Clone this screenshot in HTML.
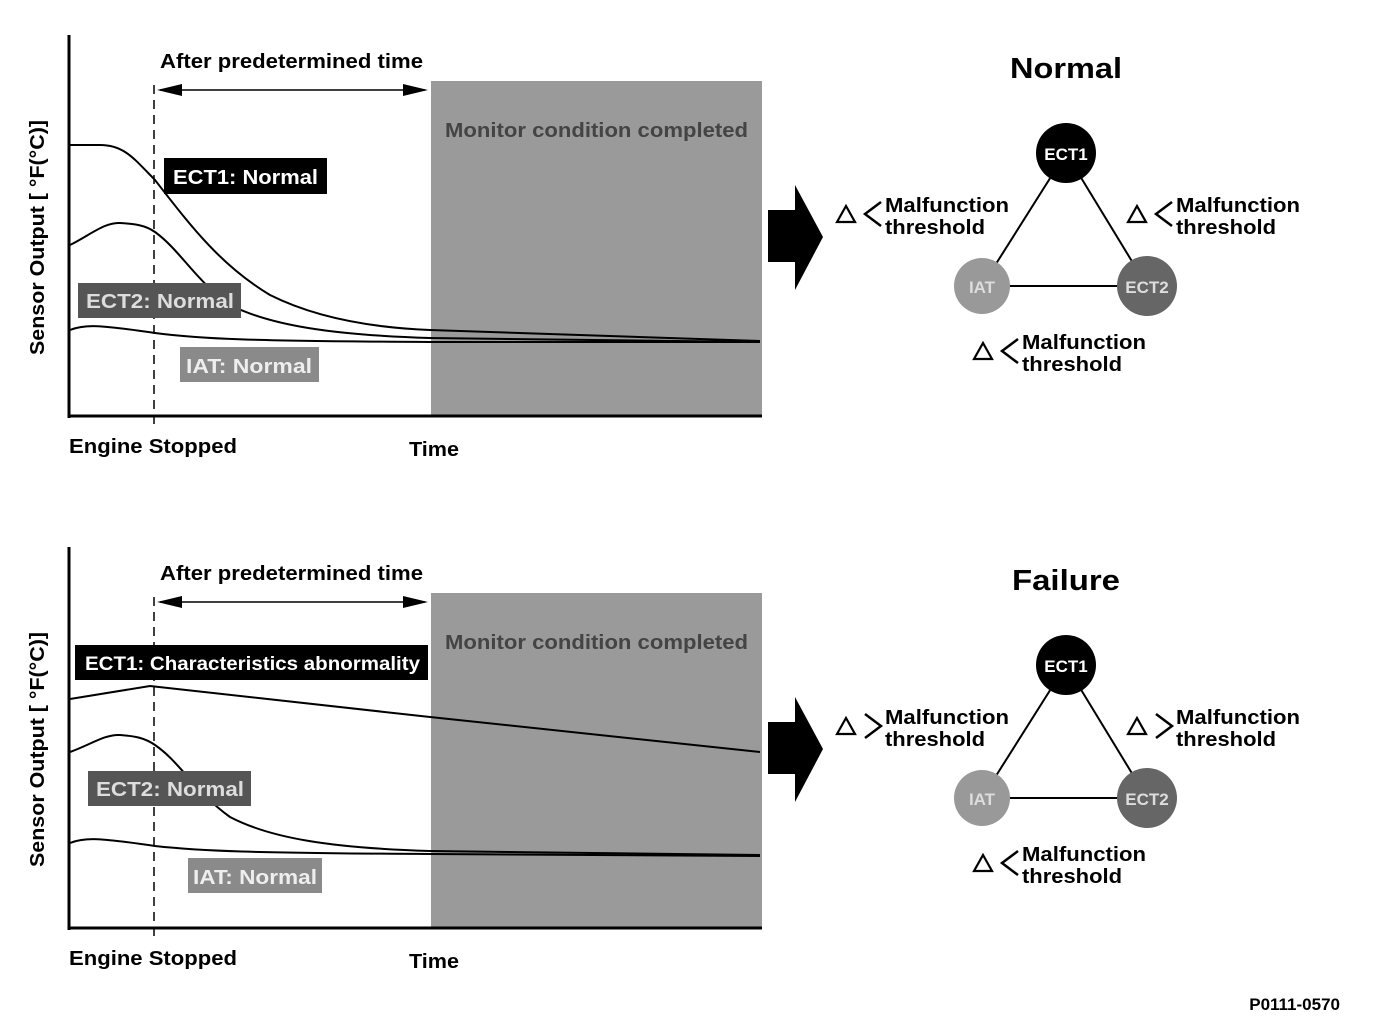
<!DOCTYPE html>
<html><head><meta charset="utf-8"><style>body{margin:0;background:#fff}svg{display:block}text{font-family:"Liberation Sans",Arial,sans-serif;font-weight:bold}</style></head><body>
<svg width="1376" height="1026" viewBox="0 0 1376 1026" xmlns="http://www.w3.org/2000/svg">
<defs>
<g id="arr"><polygon points="768,210 795,210 795,185 823,237 795,290 795,262 768,262" fill="#000"/></g>
<g id="lt"><polygon points="0,16 9,0 18,16" fill="none" stroke="#000" stroke-width="2.2"/><polyline points="44,-4 28,8 44,20" fill="none" stroke="#000" stroke-width="2.5"/></g>
<g id="gt"><polygon points="0,16 9,0 18,16" fill="none" stroke="#000" stroke-width="2.2"/><polyline points="28,-4 44,8 28,20" fill="none" stroke="#000" stroke-width="2.5"/></g>
</defs>
<!-- TOP CHART -->
<g>
<rect x="431" y="81" width="331" height="335" fill="#9a9a9a"/>
<text x="445" y="137" font-size="20" fill="#444" textLength="303" lengthAdjust="spacingAndGlyphs">Monitor condition completed</text>
<line x1="69" y1="35" x2="69" y2="418" stroke="#000" stroke-width="3"/>
<line x1="68" y1="416" x2="762" y2="416" stroke="#000" stroke-width="3"/>
<line x1="154" y1="85" x2="154" y2="430" stroke="#000" stroke-width="1.5" stroke-dasharray="9,6"/>
<line x1="160" y1="90" x2="425" y2="90" stroke="#000" stroke-width="1.5"/>
<polygon points="157,90 182,84 182,96" fill="#000"/><polygon points="428,90 403,84 403,96" fill="#000"/>
<text x="160" y="68" font-size="20" textLength="263" lengthAdjust="spacingAndGlyphs">After predetermined time</text>
<path d="M70,145 L100,145 C125,145 135,160 155,180 C190,225 220,265 270,295 C320,320 380,328 430,330 L760,341" fill="none" stroke="#000" stroke-width="2"/>
<path d="M70,245 C90,235 105,222 120,223 C135,224 145,225 155,232 C180,250 195,280 230,305 C270,325 330,335 430,338 L760,342" fill="none" stroke="#000" stroke-width="2"/>
<path d="M70,330 C85,324 100,325 155,333 C200,339 250,341 430,342 L760,342" fill="none" stroke="#000" stroke-width="2"/>
<rect x="164" y="158" width="163" height="36" fill="#000"/>
<text x="173" y="184" font-size="20" fill="#fff" font-weight="normal" textLength="145" lengthAdjust="spacingAndGlyphs">ECT1: Normal</text>
<rect x="78" y="283" width="163" height="35" fill="#555"/>
<text x="86" y="308" font-size="20" fill="#ddd" textLength="148" lengthAdjust="spacingAndGlyphs">ECT2: Normal</text>
<rect x="180" y="347" width="139" height="35" fill="#8a8a8a"/>
<text x="186" y="373" font-size="20" fill="#eee" textLength="126" lengthAdjust="spacingAndGlyphs">IAT: Normal</text>
<text x="69" y="453" font-size="20" textLength="168" lengthAdjust="spacingAndGlyphs">Engine Stopped</text>
<text x="409" y="456" font-size="20" textLength="50" lengthAdjust="spacingAndGlyphs">Time</text>
<text transform="translate(44,355) rotate(-90)" font-size="20" textLength="235" lengthAdjust="spacingAndGlyphs">Sensor Output [ °F(°C)]</text>
<use href="#arr"/>
</g>
<!-- BOTTOM CHART -->
<g>
<rect x="431" y="593" width="331" height="335" fill="#9a9a9a"/>
<text x="445" y="649" font-size="20" fill="#444" textLength="303" lengthAdjust="spacingAndGlyphs">Monitor condition completed</text>
<line x1="69" y1="547" x2="69" y2="930" stroke="#000" stroke-width="3"/>
<line x1="68" y1="928" x2="762" y2="928" stroke="#000" stroke-width="3"/>
<line x1="154" y1="597" x2="154" y2="942" stroke="#000" stroke-width="1.5" stroke-dasharray="9,6"/>
<line x1="160" y1="602" x2="425" y2="602" stroke="#000" stroke-width="1.5"/>
<polygon points="157,602 182,596 182,608" fill="#000"/><polygon points="428,602 403,596 403,608" fill="#000"/>
<text x="160" y="580" font-size="20" textLength="263" lengthAdjust="spacingAndGlyphs">After predetermined time</text>
<path d="M70,699 L150,686 L430,717 L760,752" fill="none" stroke="#000" stroke-width="2"/>
<path d="M70,752 C90,745 105,734 120,735 C135,736 145,738 155,745 C180,762 195,792 230,817 C270,838 330,848 430,851 L760,855" fill="none" stroke="#000" stroke-width="2"/>
<path d="M70,843 C85,837 100,838 155,846 C200,851 250,853 430,854 L760,856" fill="none" stroke="#000" stroke-width="2"/>
<rect x="75" y="645" width="353" height="35" fill="#000"/>
<text x="85" y="670" font-size="19" fill="#fff" font-weight="normal" textLength="335" lengthAdjust="spacingAndGlyphs">ECT1: Characteristics abnormality</text>
<rect x="88" y="771" width="163" height="35" fill="#555"/>
<text x="96" y="796" font-size="20" fill="#ddd" textLength="148" lengthAdjust="spacingAndGlyphs">ECT2: Normal</text>
<rect x="188" y="858" width="134" height="35" fill="#8a8a8a"/>
<text x="193" y="884" font-size="20" fill="#eee" textLength="124" lengthAdjust="spacingAndGlyphs">IAT: Normal</text>
<text x="69" y="965" font-size="20" textLength="168" lengthAdjust="spacingAndGlyphs">Engine Stopped</text>
<text x="409" y="968" font-size="20" textLength="50" lengthAdjust="spacingAndGlyphs">Time</text>
<text transform="translate(44,867) rotate(-90)" font-size="20" textLength="235" lengthAdjust="spacingAndGlyphs">Sensor Output [ °F(°C)]</text>
<use href="#arr" transform="translate(0,512)"/>
</g>
<!-- TRIANGLES -->
<g>
<text x="1066" y="78" font-size="29" text-anchor="middle" textLength="112" lengthAdjust="spacingAndGlyphs">Normal</text>
<line x1="1066" y1="153" x2="982" y2="286" stroke="#000" stroke-width="2"/>
<line x1="1066" y1="153" x2="1147" y2="286" stroke="#000" stroke-width="2"/>
<line x1="982" y1="286" x2="1147" y2="286" stroke="#000" stroke-width="2"/>
<circle cx="1066" cy="153" r="30" fill="#000"/><text x="1066" y="160" font-size="17" fill="#fff" text-anchor="middle" font-weight="normal">ECT1</text>
<circle cx="982" cy="286" r="28" fill="#999"/><text x="982" y="293" font-size="17" fill="#ddd" text-anchor="middle">IAT</text>
<circle cx="1147" cy="286" r="30" fill="#666"/><text x="1147" y="293" font-size="17" fill="#ddd" text-anchor="middle">ECT2</text>
<use href="#lt" transform="translate(837,206)"/><text x="885" y="212" font-size="20" textLength="124" lengthAdjust="spacingAndGlyphs">Malfunction</text><text x="885" y="234" font-size="20" textLength="100" lengthAdjust="spacingAndGlyphs">threshold</text>
<use href="#lt" transform="translate(1128,206)"/><text x="1176" y="212" font-size="20" textLength="124" lengthAdjust="spacingAndGlyphs">Malfunction</text><text x="1176" y="234" font-size="20" textLength="100" lengthAdjust="spacingAndGlyphs">threshold</text>
<use href="#lt" transform="translate(974,343)"/><text x="1022" y="349" font-size="20" textLength="124" lengthAdjust="spacingAndGlyphs">Malfunction</text><text x="1022" y="371" font-size="20" textLength="100" lengthAdjust="spacingAndGlyphs">threshold</text>
</g>
<g>
<text x="1066" y="590" font-size="29" text-anchor="middle" textLength="108" lengthAdjust="spacingAndGlyphs">Failure</text>
<line x1="1066" y1="665" x2="982" y2="798" stroke="#000" stroke-width="2"/>
<line x1="1066" y1="665" x2="1147" y2="798" stroke="#000" stroke-width="2"/>
<line x1="982" y1="798" x2="1147" y2="798" stroke="#000" stroke-width="2"/>
<circle cx="1066" cy="665" r="30" fill="#000"/><text x="1066" y="672" font-size="17" fill="#fff" text-anchor="middle" font-weight="normal">ECT1</text>
<circle cx="982" cy="798" r="28" fill="#999"/><text x="982" y="805" font-size="17" fill="#ddd" text-anchor="middle">IAT</text>
<circle cx="1147" cy="798" r="30" fill="#666"/><text x="1147" y="805" font-size="17" fill="#ddd" text-anchor="middle">ECT2</text>
<use href="#gt" transform="translate(837,718)"/><text x="885" y="724" font-size="20" textLength="124" lengthAdjust="spacingAndGlyphs">Malfunction</text><text x="885" y="746" font-size="20" textLength="100" lengthAdjust="spacingAndGlyphs">threshold</text>
<use href="#gt" transform="translate(1128,718)"/><text x="1176" y="724" font-size="20" textLength="124" lengthAdjust="spacingAndGlyphs">Malfunction</text><text x="1176" y="746" font-size="20" textLength="100" lengthAdjust="spacingAndGlyphs">threshold</text>
<use href="#lt" transform="translate(974,855)"/><text x="1022" y="861" font-size="20" textLength="124" lengthAdjust="spacingAndGlyphs">Malfunction</text><text x="1022" y="883" font-size="20" textLength="100" lengthAdjust="spacingAndGlyphs">threshold</text>
</g>
<text x="1340" y="1010" font-size="17" text-anchor="end" font-weight="normal">P0111-0570</text>
</svg>
</body></html>
